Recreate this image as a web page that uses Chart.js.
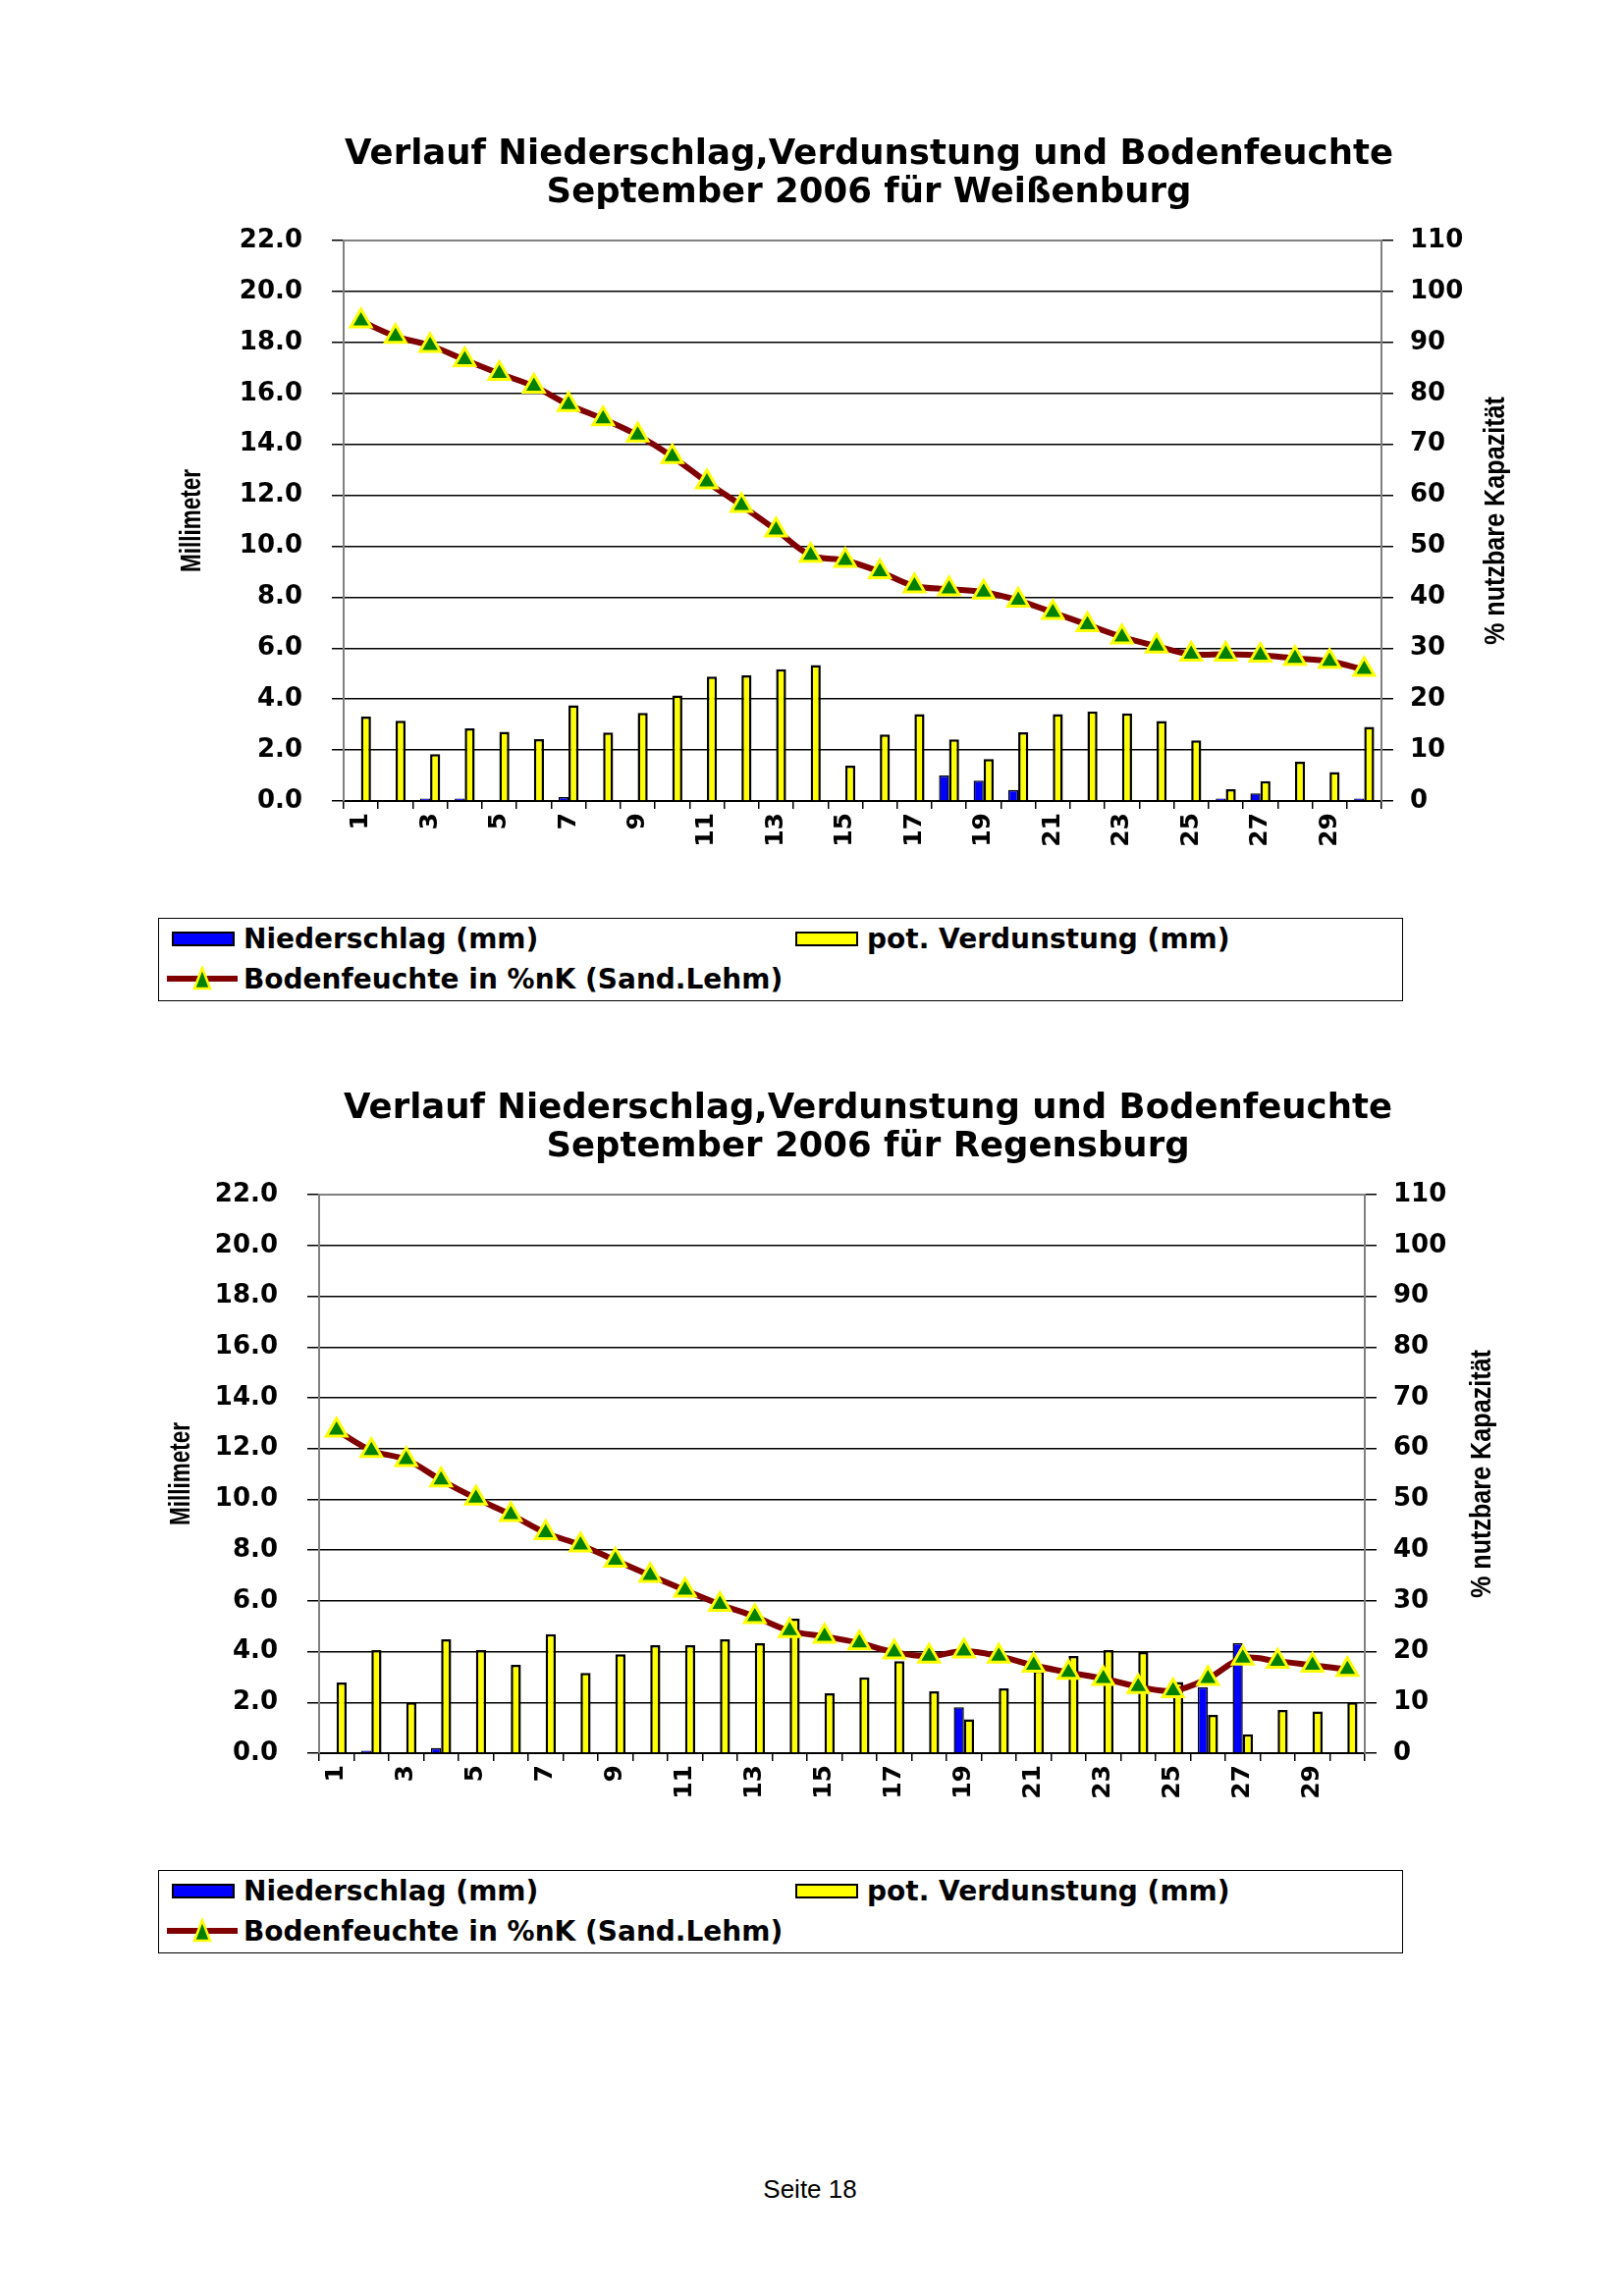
<!DOCTYPE html>
<html lang="de">
<head>
<meta charset="utf-8">
<title>Niederschlag, Verdunstung und Bodenfeuchte – September 2006</title>
<script src="https://cdn.jsdelivr.net/npm/chart.js@4.4.1/dist/chart.umd.min.js"></script>
<style>
  html, body { margin: 0; padding: 0; background: #fff; }
  #page { position: relative; width: 1653px; height: 2339px; background: #fff; overflow: hidden; }
  canvas { position: absolute; }
  .legend { position: absolute; left: 161px; width: 1268px; height: 85px; border: 1px solid #000; box-sizing: border-box;
            font: bold 28px "DejaVu Sans", sans-serif; color: #000; }
  .legend .item { position: absolute; display: flex; align-items: center; height: 40px; white-space: nowrap; }
  .legend .box { box-sizing: border-box; width: 64px; height: 15px; border: 2px solid #000; margin-right: 9px; }
  .legend svg { margin-right: 6px; }
  #footer { position: absolute; left: 0; width: 1650px; top: 2215px; text-align: center;
            font: 26px "Liberation Sans", Arial, sans-serif; color: #000; }
</style>
</head>
<body>
<div id="page">
  <canvas id="chartWeissenburg" width="1536" height="820" style="left:117px; top:100px;"></canvas>
  <div class="legend" id="legendWeissenburg" style="top:935px;"></div>
  <canvas id="chartRegensburg" width="1538" height="820" style="left:115px; top:1072px;"></canvas>
  <div class="legend" id="legendRegensburg" style="top:1905px;"></div>
  <div id="footer">Seite 18</div>
</div>

<script>
// Tage im September 2006
const days = ['1', '2', '3', '4', '5', '6', '7', '8', '9', '10', '11', '12', '13', '14', '15',
              '16', '17', '18', '19', '20', '21', '22', '23', '24', '25', '26', '27', '28', '29', '30'];

// Achsenbeschriftung
const mmTicks = [0, 2, 4, 6, 8, 10, 12, 14, 16, 18, 20, 22];
const pctTicks = [0, 10, 20, 30, 40, 50, 60, 70, 80, 90, 100, 110];

const rainLabel = 'Niederschlag (mm)';
const evapLabel = 'pot. Verdunstung (mm)';
const soilLabel = 'Bodenfeuchte in %nK (Sand.Lehm)';

// Weißenburg
const weissenburgRain = [0, 0, 0.1, 0.1, 0, 0, 0.15, 0, 0, 0, 0, 0, 0, 0, 0,
                         0, 0, 1.0, 0.8, 0.43, 0, 0, 0, 0, 0, 0.1, 0.3, 0, 0, 0.1];
const weissenburgEvap = [3.31, 3.15, 1.84, 2.85, 2.72, 2.43, 3.76, 2.69, 3.46, 4.14, 4.88, 4.93, 5.17, 5.34, 1.39,
                         2.61, 3.41, 2.42, 1.65, 2.70, 3.41, 3.52, 3.44, 3.14, 2.38, 0.46, 0.78, 1.54, 1.14, 2.91];
const weissenburgSoil = [94.2, 91.2, 89.4, 86.6, 83.9, 81.4, 77.8, 75.0, 71.8, 67.6, 62.6, 58.0, 53.2, 48.2, 47.2,
                         45.0, 42.2, 41.6, 41.0, 39.4, 37.0, 34.6, 32.2, 30.4, 28.8, 28.8, 28.6, 28.0, 27.4, 25.8];

// Regensburg
const regensburgRain = [0, 0.1, 0, 0.2, 0, 0, 0, 0, 0, 0, 0, 0, 0, 0, 0,
                        0, 0, 0, 1.81, 0, 0, 0, 0, 0, 0, 2.6, 4.33, 0, 0, 0];
const regensburgEvap = [2.78, 4.06, 2.0, 4.49, 4.06, 3.48, 4.69, 3.16, 3.9, 4.25, 4.25, 4.49, 4.33, 5.30, 2.36,
                        2.99, 3.63, 2.44, 1.33, 2.55, 3.25, 3.83, 4.06, 3.98, 2.8, 1.51, 0.74, 1.70, 1.64, 2.0];
const regensburgSoil = [63.6, 59.6, 57.8, 53.8, 50.2, 47.0, 43.4, 41.0, 38.0, 35.0, 32.1, 29.3, 26.9, 24.1, 23.0,
                        21.7, 19.9, 19.1, 20.1, 19.1, 17.3, 15.9, 14.7, 13.1, 12.3, 14.7, 18.7, 18.1, 17.3, 16.5];

const FONT = '"DejaVu Sans", Verdana, sans-serif';

// rotated axis titles (right one reads bottom-to-top like the left one)
const axisTitles = {
  id: 'axisTitles',
  afterDraw(chart, args, o) {
    const { ctx, chartArea: a } = chart;
    const midY = (a.top + a.bottom) / 2;
    const items = [
      [o.left, a.left + o.left.dx],
      [o.right, a.right + o.right.dx]
    ];
    ctx.save();
    ctx.fillStyle = '#000';
    ctx.font = 'bold 30px "Liberation Sans Narrow", "Liberation Sans", Arial, sans-serif';
    ctx.textAlign = 'center';
    ctx.textBaseline = 'middle';
    items.forEach(([t, x]) => {
      ctx.save();
      ctx.translate(x, midY);
      ctx.rotate(-Math.PI / 2);
      const w = ctx.measureText(t.text).width;
      ctx.scale(t.length / w, 1);
      ctx.fillText(t.text, 0, 0);
      ctx.restore();
    });
    ctx.restore();
  }
};

// grey top edge of the plot area
const plotFrame = {
  id: 'plotFrame',
  beforeDatasetsDraw(chart) {
    const { ctx, chartArea: a } = chart;
    ctx.save();
    ctx.strokeStyle = '#808080';
    ctx.lineWidth = 2;
    ctx.beginPath();
    ctx.moveTo(a.left, a.top);
    ctx.lineTo(a.right, a.top);
    ctx.stroke();
    ctx.restore();
  }
};

function drawChart(id, o) {
  return new Chart(document.getElementById(id), {
    type: 'bar',
    data: {
      labels: days,
      datasets: [
        {
          type: 'line',
          label: soilLabel,
          data: o.soil,
          yAxisID: 'y1',
          order: 0,
          borderColor: '#800000',
          borderWidth: 6,
          tension: 0.35,
          pointStyle: 'triangle',
          pointRadius: 12,
          pointBackgroundColor: '#008000',
          pointBorderColor: '#FFFF00',
          pointBorderWidth: 3
        },
        {
          label: rainLabel,
          data: o.rain,
          yAxisID: 'y',
          order: 1,
          backgroundColor: '#0000FF',
          borderColor: '#000',
          borderWidth: 1.5,
          categoryPercentage: 0.58,
          barPercentage: 1
        },
        {
          label: evapLabel,
          data: o.evap,
          yAxisID: 'y',
          order: 1,
          backgroundColor: '#FFFF00',
          borderColor: '#000',
          borderWidth: 2.5,
          categoryPercentage: 0.58,
          barPercentage: 1
        }
      ]
    },
    options: {
      responsive: false,
      animation: false,
      devicePixelRatio: 1,
      layout: { padding: 0 },
      plugins: {
        legend: { display: false },
        tooltip: { enabled: false },
        title: {
          display: true,
          text: o.title,
          color: '#000',
          font: { family: FONT, size: 35.5, weight: 'bold', lineHeight: 1.1 },
          padding: { top: 38, bottom: 29 }
        },
        axisTitles: {
          left: { text: 'Millimeter', dx: o.leftTitleDx, length: 105 },
          right: { text: '% nutzbare Kapazität', dx: o.rightTitleDx, length: 253 }
        }
      },
      scales: {
        x: {
          offset: true,
          grid: { offset: true, drawOnChartArea: false, tickLength: 8, color: '#000', lineWidth: 1.5 },
          border: { color: '#000', width: 2 },
          ticks: {
            autoSkip: false,
            minRotation: 90,
            maxRotation: 90,
            padding: 4,
            color: '#000',
            font: { family: FONT, size: 25, weight: 'bold' },
            callback: (v, i) => (i % 2 === 0 ? days[i] : '')
          },
          afterFit: s => { s.height = o.xHeight; }
        },
        y: {
          position: 'left',
          min: 0,
          max: 22,
          afterBuildTicks: s => { s.ticks = mmTicks.map(v => ({ value: v })); },
          grid: { color: '#000', lineWidth: 1.5, tickLength: 12 },
          border: { color: '#808080', width: 2 },
          ticks: {
            padding: 30,
            color: '#000',
            font: { family: FONT, size: 26, weight: 'bold' },
            callback: v => v.toFixed(1)
          },
          afterFit: s => { s.width = o.yWidth; }
        },
        y1: {
          position: 'right',
          min: 0,
          max: 110,
          afterBuildTicks: s => { s.ticks = pctTicks.map(v => ({ value: v })); },
          grid: { drawOnChartArea: false, color: '#000', lineWidth: 1.5, tickLength: 12 },
          border: { color: '#808080', width: 2 },
          ticks: {
            padding: 17,
            color: '#000',
            font: { family: FONT, size: 26, weight: 'bold' },
            callback: v => String(v)
          },
          afterFit: s => { s.width = o.y1Width; }
        }
      }
    },
    plugins: [axisTitles, plotFrame]
  });
}

function buildLegend(el, chart) {
  const ds = chart.data.datasets;
  const rain = ds[1], evap = ds[2], soil = ds[0];
  const place = (left, top, html) => {
    const d = document.createElement('div');
    d.className = 'item';
    d.style.left = left + 'px';
    d.style.top = top + 'px';
    d.innerHTML = html;
    el.appendChild(d);
  };
  const box = c => `<span class="box" style="background:${c}"></span>`;
  place(13, 0, box(rain.backgroundColor) + `<span>${rain.label}</span>`);
  place(648, 0, box(evap.backgroundColor) + `<span>${evap.label}</span>`);
  const line = `<svg width="72" height="26" viewBox="0 0 72 26">
      <line x1="0" y1="13" x2="72" y2="13" stroke="${soil.borderColor}" stroke-width="6"/>
      <polygon points="36,2 44,23 28,23" fill="${soil.pointBackgroundColor}" stroke="${soil.pointBorderColor}" stroke-width="2.5"/>
    </svg>`;
  place(8, 41, line + `<span>${soil.label}</span>`);
}

const weissenburg = drawChart('chartWeissenburg', {
  title: ['Verlauf Niederschlag,Verdunstung und Bodenfeuchte', 'September 2006 für Weißenburg'],
  rain: weissenburgRain,
  evap: weissenburgEvap,
  soil: weissenburgSoil,
  yWidth: 233,
  y1Width: 246,
  xHeight: 104,
  leftTitleDx: -154,
  rightTitleDx: 117
});
buildLegend(document.getElementById('legendWeissenburg'), weissenburg);

const regensburg = drawChart('chartRegensburg', {
  title: ['Verlauf Niederschlag,Verdunstung und Bodenfeuchte', 'September 2006 für Regensburg'],
  rain: regensburgRain,
  evap: regensburgEvap,
  soil: regensburgSoil,
  yWidth: 210,
  y1Width: 263,
  xHeight: 106,
  leftTitleDx: -140,
  rightTitleDx: 120
});
buildLegend(document.getElementById('legendRegensburg'), regensburg);
</script>
</body>
</html>
